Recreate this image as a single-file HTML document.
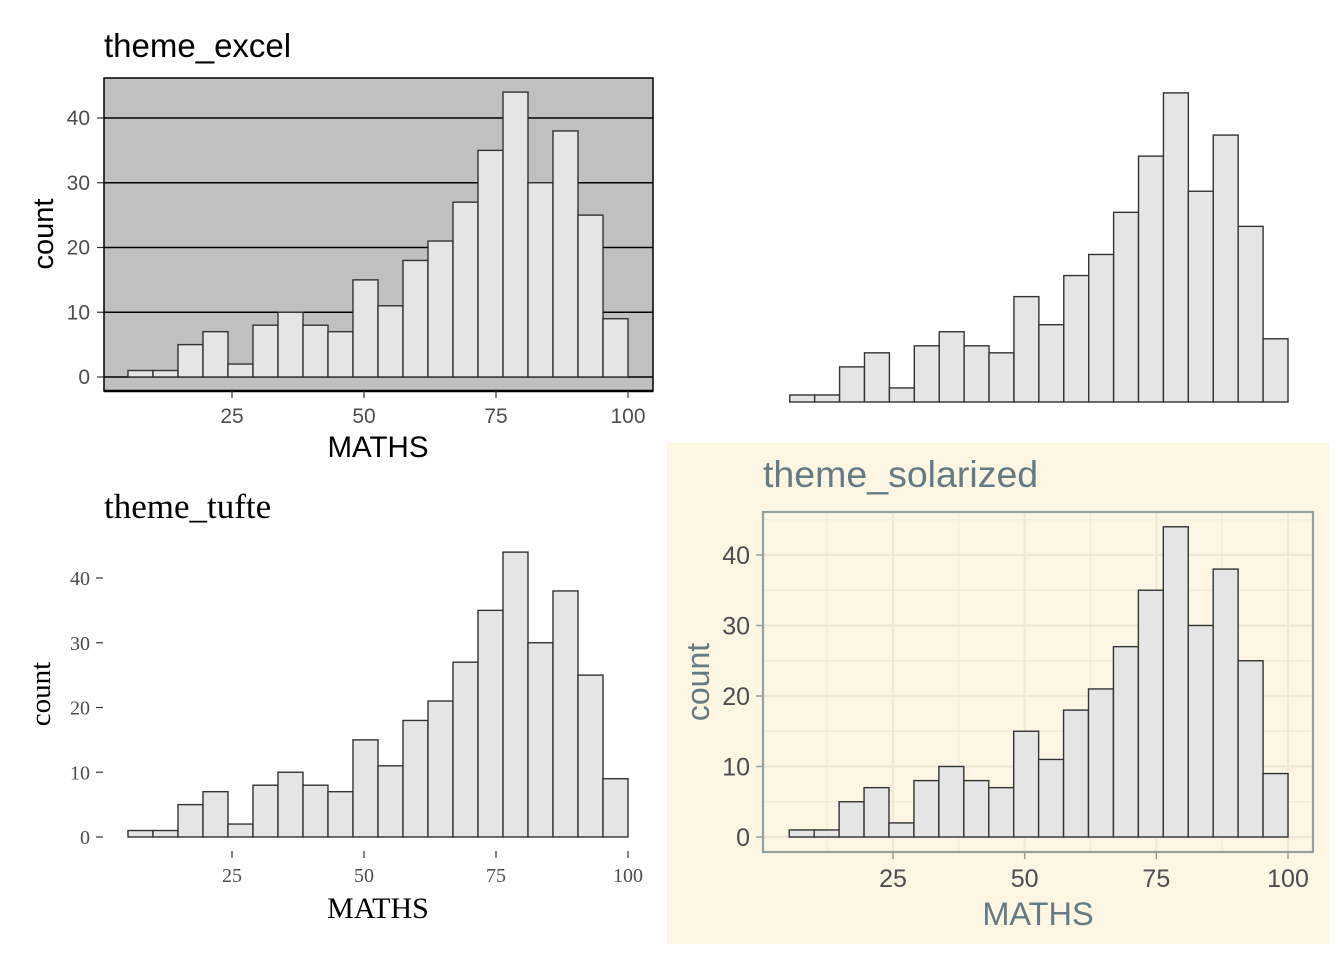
<!DOCTYPE html>
<html><head><meta charset="utf-8"><style>
html,body{margin:0;padding:0;background:#fff;width:1344px;height:960px;overflow:hidden}
svg{display:block}
</style></head><body>
<svg id="c" width="1344" height="960" xmlns="http://www.w3.org/2000/svg">
<rect x="667" y="443" width="662" height="501" fill="#fdf6e3"/>
</svg>
<script>
const counts = [1,1,5,7,2,8,10,8,7,15,11,18,21,27,35,44,30,38,25,9];
const binStart = 5.3;
const binWidth = 4.735;
const xTicks = [25,50,75,100];
const yTicks = [0,10,20,30,40];
const titles = ["theme_excel","","theme_tufte","theme_solarized"];

const NS="http://www.w3.org/2000/svg";
const svg=document.getElementById('c');
function mk(tag,attrs,parent){const e=document.createElementNS(NS,tag);for(const k in attrs)e.setAttribute(k,attrs[k]);(parent||svg).appendChild(e);return e;}
function txt(s,attrs,parent){const e=mk('text',attrs,parent);e.textContent=s;return e;}

const panels=[
 {x25:232,x100:628,y0:377,y40:118,name:'excel'},
 {x25:893.4,x100:1288,y0:402,y40:121,name:'void'},
 {x25:232,x100:628,y0:837,y40:578,name:'tufte'},
 {x25:893,x100:1288,y0:837,y40:555,name:'solarized'}
];
function scales(p){
  const sx=v=>p.x25+(v-25)*(p.x100-p.x25)/75;
  const sy=v=>p.y0-v*(p.y0-p.y40)/40;
  return [sx,sy];
}
function bars(p,g){
  const [sx,sy]=scales(p);
  counts.forEach((c,i)=>{
    const x0=sx(binStart+i*binWidth),x1=sx(binStart+(i+1)*binWidth);
    const r=mk('rect',{x:x0,y:sy(c),width:x1-x0,height:sy(0)-sy(c),fill:'#e5e5e5',stroke:'#333','stroke-width':1.4},g);
    
    
  });
}

{
 const p=panels[0];const [sx,sy]=scales(p);
 const g=mk('g',{});
 mk('rect',{x:104,y:78,width:549,height:313,fill:'#c0c0c0'},g);
 yTicks.forEach(t=>{mk('line',{x1:104,x2:653,y1:sy(t),y2:sy(t),stroke:'#000','stroke-width':1.5},g);
   mk('line',{x1:97,x2:104,y1:sy(t),y2:sy(t),stroke:'#333','stroke-width':1.2},g);
   const l=txt(t,{x:90,y:sy(t)+7,'text-anchor':'end','font-family':'Liberation Sans, sans-serif','font-size':21,fill:'#4d4d4d'},g);
   });
 bars(p,g);
 mk('rect',{x:104,y:78,width:549,height:313,fill:'none',stroke:'#000','stroke-width':1.5},g);
 mk('line',{x1:104,x2:653,y1:391,y2:391,stroke:'#000','stroke-width':2.5},g);
 xTicks.forEach(t=>{mk('line',{x1:sx(t),x2:sx(t),y1:391,y2:398,stroke:'#333','stroke-width':1.2},g);
   const l=txt(t,{x:sx(t),y:423,'text-anchor':'middle','font-family':'Liberation Sans, sans-serif','font-size':21,fill:'#4d4d4d'},g);
   });
 const t1=txt(titles[0],{x:104,y:57,'font-family':'Liberation Sans, sans-serif','font-size':33,fill:'#000'},g);
 
 const xa=txt('MATHS',{x:378,y:457,'text-anchor':'middle','font-family':'Liberation Sans, sans-serif','font-size':29.5,fill:'#000'},g);
 
 const ya=txt('count',{transform:'translate(53,234) rotate(-90)','text-anchor':'middle','font-family':'Liberation Sans, sans-serif','font-size':29,fill:'#000'},g);
 
}
{
 const g=mk('g',{});
 bars(panels[1],g);
}
{
 const p=panels[2];const [sx,sy]=scales(p);
 const g=mk('g',{});
 bars(p,g);
 yTicks.forEach(t=>{mk('line',{x1:96,x2:103,y1:sy(t),y2:sy(t),stroke:'#333','stroke-width':1.2},g);
   const l=txt(t,{x:90,y:sy(t)+7,'text-anchor':'end','font-family':'Liberation Serif, serif','font-size':20,fill:'#4d4d4d'},g);
   });
 xTicks.forEach(t=>{mk('line',{x1:sx(t),x2:sx(t),y1:851,y2:858,stroke:'#333','stroke-width':1.2},g);
   const l=txt(t,{x:sx(t),y:882,'text-anchor':'middle','font-family':'Liberation Serif, serif','font-size':20,fill:'#4d4d4d'},g);
   });
 const t1=txt(titles[2],{x:104,y:518,'font-family':'Liberation Serif, serif','font-size':35,fill:'#000'},g);
 
 const xa=txt('MATHS',{x:378,y:918,'text-anchor':'middle','font-family':'Liberation Serif, serif','font-size':30,fill:'#000'},g);
 
 const ya=txt('count',{transform:'translate(50,694) rotate(-90)','text-anchor':'middle','font-family':'Liberation Serif, serif','font-size':29,fill:'#000'},g);
 
}
{
 const p=panels[3];const [sx,sy]=scales(p);
 const g=mk('g',{});
 for(let v=5;v<=45;v+=10) mk('line',{x1:763,x2:1313,y1:sy(v),y2:sy(v),stroke:'#eee8d5','stroke-width':1},g);
 [12.5,37.5,62.5,87.5].forEach(v=>mk('line',{x1:sx(v),x2:sx(v),y1:512,y2:852,stroke:'#eee8d5','stroke-width':1},g));
 yTicks.forEach(t=>mk('line',{x1:763,x2:1313,y1:sy(t),y2:sy(t),stroke:'#eee8d5','stroke-width':2.2},g));
 xTicks.forEach(t=>mk('line',{x1:sx(t),x2:sx(t),y1:512,y2:852,stroke:'#eee8d5','stroke-width':2.2},g));
 bars(p,g);
 mk('rect',{x:763,y:512,width:550,height:340,fill:'none',stroke:'#93a1a1','stroke-width':2.2},g);
 yTicks.forEach(t=>{mk('line',{x1:756,x2:763,y1:sy(t),y2:sy(t),stroke:'#93a1a1','stroke-width':1.5},g);
   const l=txt(t,{x:750,y:sy(t)+9,'text-anchor':'end','font-family':'Liberation Sans, sans-serif','font-size':25,fill:'#4d4d4d'},g);
   });
 xTicks.forEach(t=>{mk('line',{x1:sx(t),x2:sx(t),y1:852,y2:859,stroke:'#93a1a1','stroke-width':1.5},g);
   const l=txt(t,{x:sx(t),y:887,'text-anchor':'middle','font-family':'Liberation Sans, sans-serif','font-size':25,fill:'#4d4d4d'},g);
   });
 const t1=txt(titles[3],{x:763,y:487,'font-family':'Liberation Sans, sans-serif','font-size':37.5,fill:'#657b83'},g);
 
 const xa=txt('MATHS',{x:1038,y:925,'text-anchor':'middle','font-family':'Liberation Sans, sans-serif','font-size':32.5,fill:'#657b83'},g);
 
 const ya=txt('count',{transform:'translate(709,682) rotate(-90)','text-anchor':'middle','font-family':'Liberation Sans, sans-serif','font-size':32,fill:'#657b83'},g);
 
}
</script>
</body></html>
